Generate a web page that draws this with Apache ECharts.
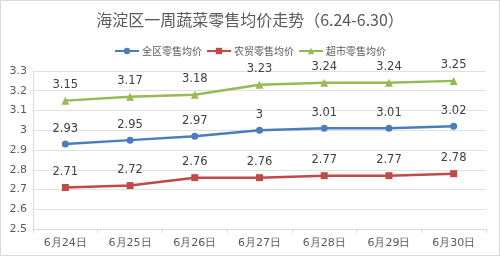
<!DOCTYPE html>
<html>
<head>
<meta charset="utf-8">
<script src="https://cdn.jsdelivr.net/npm/echarts@6/dist/echarts.min.js"></script>
<style>
	html, body { margin: 0; padding: 0; background: #fff; }
	#chartDiv { width: 498px; height: 254px; border: 1px solid #d9d9d9; }
</style>
</head>
<body>
<div id="chartDiv"></div>
<script>
var categories = ['6月24日', '6月25日', '6月26日', '6月27日', '6月28日', '6月29日', '6月30日'];
var quanqu = [2.93, 2.95, 2.97, 3, 3.01, 3.01, 3.02];
var nongmao = [2.71, 2.72, 2.76, 2.76, 2.77, 2.77, 2.78];
var chaoshi = [3.15, 3.17, 3.18, 3.23, 3.24, 3.24, 3.25];

var chart = echarts.init(document.getElementById('chartDiv'));

function makeSeries(name, data, color, symbol) {
	return {
		name: name,
		type: 'line',
		data: data,
		symbol: symbol,
		symbolSize: symbol == 'triangle' ? 8 : 7,
		showAllSymbol: true,
		lineStyle: {
			color: color,
			width: 2.5
		},
		itemStyle: {
			color: color
		},
		label: {
			show: true,
			position: 'top',
			distance: 6,
			color: '#404040',
			fontSize: 11.5,
			fontFamily: 'DejaVu Sans'
		},
		animation: false
	};
}

var option = {
	title: {
		text: '海淀区一周蔬菜零售均价走势（6.24-6.30）',
		left: 'center',
		top: 6,
		textStyle: {
			color: '#595959',
			fontSize: 16,
			fontWeight: 'normal',
			fontFamily: 'Noto Sans CJK SC'
		}
	},
	legend: {
		top: 40,
		left: 'center',
		itemWidth: 24,
		itemHeight: 8,
		itemGap: 4,
		textStyle: {
			color: '#595959',
			fontSize: 10,
			padding: [0, 0, 0, -2],
			fontFamily: 'Noto Sans CJK SC'
		},
		data: ['全区零售均价', '农贸零售均价', '超市零售均价']
	},
	grid: {
		left: 32,
		right: 13,
		top: 70,
		bottom: 26
	},
	xAxis: {
		type: 'category',
		boundaryGap: true,
		data: categories,
		axisLine: {
			lineStyle: { color: '#d9d9d9', width: 1 }
		},
		axisTick: {
			show: true,
			length: 4,
			lineStyle: { color: '#d9d9d9' }
		},
		axisLabel: {
			color: '#595959',
			fontSize: 11,
			margin: 9,
			fontFamily: 'DejaVu Sans'
		}
	},
	yAxis: {
		type: 'value',
		min: 2.5,
		max: 3.3,
		interval: 0.1,
		axisLine: {
			show: true,
			lineStyle: { color: '#d9d9d9', width: 1 }
		},
		axisTick: { show: false },
		splitLine: {
			lineStyle: { color: '#e0e0e0', width: 1 }
		},
		axisLabel: {
			color: '#595959',
			fontSize: 11,
			margin: 6,
			fontFamily: 'DejaVu Sans',
			formatter: function (v) {
				return String(Math.round(v * 10) / 10);
			}
		}
	},
	series: [
		makeSeries('全区零售均价', quanqu, '#4a7ebb', 'circle'),
		makeSeries('农贸零售均价', nongmao, '#be4b48', 'rect'),
		makeSeries('超市零售均价', chaoshi, '#98b954', 'triangle')
	]
};

chart.setOption(option, true);
</script>
</body>
</html>
